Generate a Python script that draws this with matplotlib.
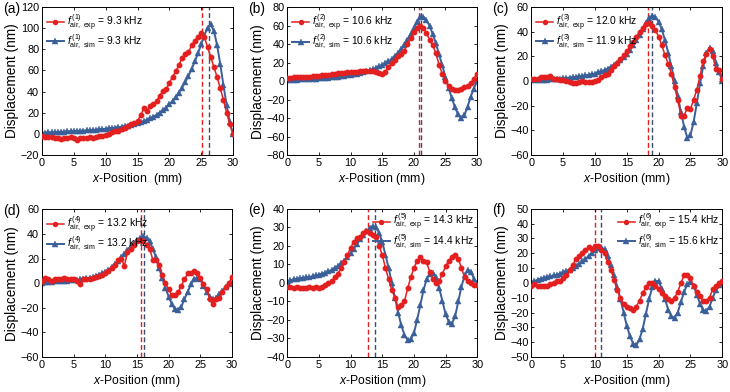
"""
Six-panel displacement profiles: measured vs simulated mode shapes.
"""

import numpy as np
import matplotlib
matplotlib.use("Agg")
import matplotlib.pyplot as plt

plt.rcParams['font.family'] = ['Liberation Sans', 'DejaVu Sans']
plt.rcParams['mathtext.fontset'] = 'custom'
plt.rcParams['mathtext.rm'] = 'Liberation Sans'
plt.rcParams['mathtext.it'] = 'Liberation Sans:italic'

# sampling grid of the read-off values (mm)
x_pos = np.linspace(0, 30, 61)

panel_tags = ['(a)', '(b)', '(c)', '(d)', '(e)', '(f)']
mode_no = [1, 2, 3, 4, 5, 6]
f_exp = ['9.3', '10.6', '12.0', '13.2', '14.3', '15.4']
f_sim = ['9.3', '10.6', '11.9', '13.2', '14.4', '15.6']
peak_exp = [25.1, 20.8, 18.4, 15.6, 12.8, 9.95]
peak_sim = [26.2, 21.1, 18.9, 16.1, 13.8, 10.9]
y_limits = [(-20, 120), (-80, 80), (-60, 60), (-60, 60), (-40, 40), (-50, 50)]
y_steps = [20, 20, 20, 20, 10, 10]

exp_a = [-2, -3, -3, -3, -4, -4, -5, -4, -4, -3, -4, -6, -4, -4, -4, -3, -4, -3, -2, -2,
         -1, 0, 2, 3, 3, 5, 6, 7, 9, 10, 12, 18, 24, 22, 26, 28, 31, 36, 41, 42,
         48, 54, 59, 65, 72, 76, 77, 84, 88, 92, 95, 92, 82, 73, 63, 54, 43, 32, 20, 9, 0]
sim_a = [1.0, 1.2, 1.4, 1.5, 1.7, 1.8, 2.0, 2.1, 2.3, 2.4, 2.6, 2.8, 3.0, 3.1, 3.3, 3.5,
         3.7, 3.9, 4.2, 4.5, 4.8, 5.1, 5.5, 5.9, 6.3, 6.8, 7.3, 7.9, 8.6, 9.3, 10.1, 11.0,
         12.0, 13.2, 14.6, 16.2, 18.0, 20.0, 22.3, 24.9, 27.8, 31.1, 34.8, 39.0, 43.7, 49.0,
         54.8, 61.3, 68.5, 76.3, 84.6, 93.0, 100.5, 103.5, 97.5, 84.0, 66.0, 46.0, 27.0, 11.0, 0.0]

exp_b = [3, 3, 4, 4, 4, 5, 5, 5, 6, 6, 6, 7, 7, 7, 8, 8, 9, 9, 9, 10,
         10, 10, 10, 11, 11, 11, 11, 11, 10, 9, 8, 10, 15, 20, 23, 27, 29, 33, 40, 47,
         53, 58, 60, 58, 52, 45, 39, 30, 18, 8, 0, -5, -8, -10, -10, -8, -6, -5, -2, 2, 8]
sim_b = [1, 1.2, 1.4, 1.6, 1.8, 2, 2.2, 2.4, 2.6, 2.8, 3, 3.3, 3.6, 3.9, 4.2, 4.6,
         5, 5.4, 5.8, 6.3, 6.8, 7.4, 8, 8.8, 9.6, 10.6, 11.8, 13, 14.5, 16, 17.5, 19.5,
         21.5, 24, 27, 30.5, 34.5, 39.5, 45, 51, 57.5, 64, 69, 70, 66, 60, 51, 41, 29, 17,
         5, -7, -18, -28, -36, -40, -37, -28, -17, -8, 0]

exp_c = [2, 2, 2, 3, 3, 3, 4, 2, 2, 1, 1, 0, -1, -2, -2, -1, 0, -1, -1, -1,
         0, 1, 3, 5, 6, 9, 12, 15, 18, 21, 24, 28, 32, 36, 40, 43, 46, 47, 45, 41,
         36, 29, 21, 14, 6, -5, -15, -28, -28, -22, -23, -15, -7, 4, 16, 22, 26, 20, 10, 9, 2]
sim_c = [0.5, 0.6, 0.8, 0.9, 1, 1.2, 1.4, 1.6, 1.8, 2, 2.2, 2.5, 2.8, 3, 3.4, 3.7,
         4, 4.5, 5, 5.5, 6, 7, 8, 9, 10, 11.5, 13, 15, 17, 19.5, 22, 25.5, 29, 33, 37, 42,
         47, 51, 53, 52, 48, 42, 33, 23, 12, 0, -12, -25, -37, -46, -44, -33, -18, -2, 12,
         23, 27, 24, 15, 7, 0]

exp_d = [2, 4, 3, 2, 3, 3, 3, 4, 3, 3, 3, 2, -1, 3, 3, 3, 4, 5, 6, 7,
         8, 10, 12, 15, 19, 20, 14, 25, 28, 31, 34, 35, 34, 31, 28, 19, 19, 15, 7, 0,
         -5, -10, -10, -7, -2, 3, 8, 8, 10, 8, 4, -1, -5, -13, -17, -13, -12, -7, -3, 0, 5]
sim_d = [0.5, 0.7, 1, 1.2, 1.5, 1.6, 1.8, 1.9, 2, 2.3, 2.5, 2.7, 3, 3.5, 4, 4.5,
         5, 6, 7, 8, 9, 11, 13, 15.5, 18, 21, 24, 27, 30, 32.5, 35, 37, 38, 37, 34, 28,
         21, 12, 4, -4, -11, -17, -21, -21.5, -19, -13, -7, -1, 3, 4.5, 3, -2, -7, -11,
         -13, -12, -9, -6, -3, -1, 0]

exp_e = [-2, -2, -3, -2, -3, -3, -3, -2, -3, -2, -3, -2, -1, 0, 1, 3, 5, 8, 11, 15,
         19, 22, 24, 25, 27, 28, 27, 26, 25, 20, 15, 8, 2, -4, -8, -13, -12, -10, -3, 3,
         8, 12, 14, 12, 11, 6, 2, 0, 1, 5, 9, 12, 14, 15, 13, 8, 3, 1, 0, -1, -1]
sim_e = [0.5, 1.3, 2, 2.2, 2.5, 2.7, 3, 3.2, 3.5, 4, 4.5, 5, 5.5, 6.2, 7, 8,
         9, 10.5, 12, 14, 16, 18.5, 21, 23.5, 26, 28, 29.5, 30.5, 30, 27, 22, 15, 8, 0,
         -8, -16, -23, -28, -31, -30.5, -27, -20, -12, -4, 2, 5, 5.5, 3, -3, -10, -17,
         -21, -22, -18, -10, -2, 4, 7, 6, 2, 0]

exp_f = [-2, -1, -2, -2, -2, -2, -1, 0, 1, 1, 3, 5, 9, 12, 16, 18, 20, 22, 24, 23,
         25, 25, 22, 20, 14, 9, 2, -5, -10, -14, -16, -17, -18, -16, -12, -7, -3, 0, 0, -2,
         -4, -7, -9, -11, -12, -10, -6, 0, 5, 5, 3, -2, -6, -9, -12, -12, -10, -4, -2, 0, 1]
sim_f = [0.5, 1.3, 2, 2.8, 3.5, 4, 4.5, 5, 5.5, 6.2, 7, 8, 9, 10.2, 11.5, 13,
         14.5, 16.2, 18, 20, 22, 23.5, 24, 22.5, 18, 12, 5, -3, -11, -20, -29, -36,
         -41, -42, -38, -31, -21, -11, -3, 1.5, 1, -4, -11, -18, -22.5, -23.5, -20, -13,
         -6, -1, 0.5, -2, -8, -14, -18.5, -19, -16, -10, -5, -1.5, 0]

exp_series = [exp_a, exp_b, exp_c, exp_d, exp_e, exp_f]
sim_series = [sim_a, sim_b, sim_c, sim_d, sim_e, sim_f]

RED = '#e3201f'
BLUE = '#3a5f99'
DARK = '#3c4c66'

# axes boxes in pixels: left, right, top, bottom
boxes = [(42, 233, 7, 155), (287.3, 477, 7.3, 155), (531.3, 722.3, 7, 155),
         (42, 232, 209.3, 357), (287.3, 477.3, 208.7, 357), (531.3, 722.3, 208.7, 357)]
W, H = 730, 392

fig = plt.figure(figsize=(7.3, 3.92), dpi=100)

for i in range(6):
    l, r, t, b = boxes[i]
    ax = fig.add_axes([l / W, 1 - b / H, (r - l) / W, (b - t) / H])

    ax.plot(x_pos, exp_series[i], '-o', color=RED, lw=1.1, ms=3.2, zorder=3,
            label=r'$f^{\,(%d)}_{\mathrm{air,\ exp}}$ = %s kHz' % (mode_no[i], f_exp[i]))
    ax.plot(x_pos, sim_series[i], '-^', color=BLUE, lw=1.4, ms=4.4, mew=0.3, zorder=2,
            label=r'$f^{\,(%d)}_{\mathrm{air,\ sim}}$ = %s kHz' % (mode_no[i], f_sim[i]))
    ax.axvline(peak_exp[i], color=RED, ls='--', lw=1.0, dashes=(3.5, 2), zorder=1)
    ax.axvline(peak_sim[i], color=DARK, ls='--', lw=1.0, dashes=(3.5, 2), zorder=1)

    lo, hi = y_limits[i]
    ax.set_xlim(0, 30)
    ax.set_ylim(lo, hi)
    ax.set_xticks(np.arange(0, 31, 5))
    ax.set_yticks(np.arange(lo, hi + 1, y_steps[i]))
    ax.tick_params(labelsize=7.8, direction='in', length=2.5, width=0.6, pad=2,
                   top=True, right=True)
    for s in ax.spines.values():
        s.set_linewidth(0.7)

    xlab = r'$x$-Position  (mm)' if i == 0 else r'$x$-Position (mm)'
    ax.set_xlabel(xlab, fontsize=8.8, labelpad=2)
    ax.set_ylabel('Displacement (nm)', fontsize=9.8, labelpad=1)

    loc = 'upper right' if i >= 4 else 'upper left'
    pad = 0.1 if i >= 4 else 0.3
    ax.legend(loc=loc, frameon=False, fontsize=7.4, handlelength=1.6,
              handletextpad=0.3, labelspacing=0.0, borderaxespad=pad,
              borderpad=0.2, markerscale=0.9)

    fig.text((l - 39) / W, 1 - (t + 1.5) / H, panel_tags[i], fontsize=10,
             ha='left', va='center')

fig.savefig('out.png', dpi=100)
plt.close(fig)
